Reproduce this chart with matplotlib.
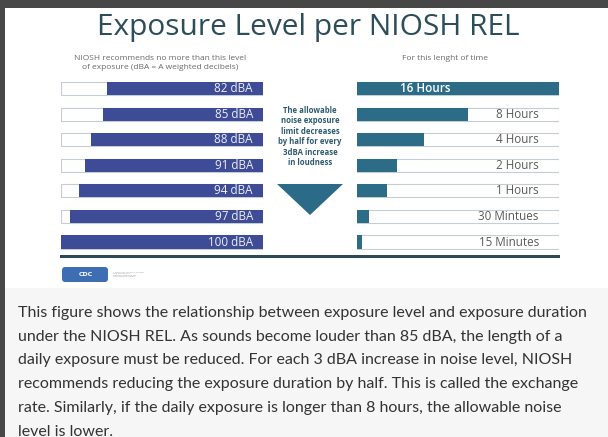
import matplotlib.pyplot as plt
from matplotlib.patches import Polygon, Rectangle, FancyBboxPatch

# data
levels = ['82 dBA', '85 dBA', '88 dBA', '91 dBA', '94 dBA', '97 dBA', '100 dBA']
level_fill = [0.77, 0.79, 0.85, 0.88, 0.91, 0.955, 1.0]
durations = ['16 Hours', '8 Hours', '4 Hours', '2 Hours', '1 Hours', '30 Mintues', '15 Minutes']
duration_fill = [1.0, 0.55, 0.33, 0.20, 0.15, 0.06, 0.025]

paragraph = [
    "This figure shows the relationship between exposure level and exposure duration",
    "under the NIOSH REL. As sounds become louder than 85 dBA, the length of a",
    "daily exposure must be reduced. For each 3 dBA increase in noise level, NIOSH",
    "recommends reducing the exposure duration by half. This is called the exchange",
    "rate. Similarly, if the daily exposure is longer than 8 hours, the allowable noise",
    "level is lower.",
]
middle_note = "The allowable\nnoise exposure\nlimit decreases\nby half for every\n3dBA increase\nin loudness"

W, H = 608, 437
fig = plt.figure(figsize=(W / 100, H / 100), dpi=100)
fig.patch.set_facecolor('white')

# background axes in pixel coordinates
bg = fig.add_axes([0, 0, 1, 1])
bg.set_xlim(0, W)
bg.set_ylim(H, 0)
bg.axis('off')
bg.add_patch(Rectangle((0, 0), W, 8, color='#474747', lw=0))
bg.add_patch(Rectangle((0, 0), 5, H, color='#474747', lw=0))
bg.add_patch(Rectangle((5, 288), W - 5, H - 288, color='#f6f6f6', lw=0))

bg.text(308, 28, 'Exposure Level per NIOSH REL', ha='center', va='center',
        fontsize=21.5, color='#2d4d5b', family='Open Sans')
bg.text(160, 63, 'NIOSH recommends no more than this level\nof exposure (dBA = A weighted decibels)',
        ha='center', va='center', fontsize=6.0, color='#6a6a6a', family='Open Sans', linespacing=1.3)
bg.text(445, 58, 'For this lenght of time', ha='center', va='center',
        fontsize=6.0, color='#6a6a6a', family='Open Sans')

bg.text(310, 136.5, middle_note, ha='center', va='center', fontsize=5.6, fontweight='bold',
        color='#2f5a6e', family='Open Sans', linespacing=1.22)
bg.add_patch(Polygon([(277, 184), (343, 184), (310, 215)], closed=True, color='#2c6b88', lw=0))

bg.add_patch(Rectangle((60, 255), 500, 3, color='#2c4a55', lw=0))

# logo
bg.add_patch(FancyBboxPatch((62, 267), 46, 15, boxstyle='round,pad=0,rounding_size=3',
                            color='#3d6eb4', lw=0))
bg.text(86, 274.5, 'CDC', ha='center', va='center', fontsize=4.5, color='white', fontweight='bold')
bg.text(113, 274.5, 'Centers for Disease Control\nand Prevention\nNational Institute for\nOccupational Safety',
        ha='left', va='center', fontsize=1.6, color='#9a9a9a', linespacing=1.2)

for i, line in enumerate(paragraph):
    bg.text(18, 313 + i * 23.7, line, ha='left', va='center', fontsize=11.5,
            color='#333333', family='Lato')

# bar axes
row_top, row_bot = 88.5, 242.0
step = (row_bot - row_top) / 6
y0 = row_top - step / 2
y1 = row_bot + step / 2
rows = list(range(len(levels)))


def bar_axes(xpix):
    ax = fig.add_axes([xpix / W, 1 - y1 / H, 202 / W, (y1 - y0) / H])
    ax.set_xlim(0, 1)
    ax.set_ylim(6.5, -0.5)
    ax.axis('off')
    return ax


axl = bar_axes(61)
axl.barh(rows, [1] * len(rows), height=0.51, color='white', edgecolor='#c5ccd3', lw=0.8)
axl.barh(rows, level_fill, left=[1 - f for f in level_fill], height=0.51, color='#3e4c98', lw=0)
for r, lab in zip(rows, levels):
    axl.text(0.95, r, lab, ha='right', va='center', fontsize=8.4, color='#eeeef6', family='Open Sans')

axr = bar_axes(357)
axr.barh(rows, [1] * len(rows), height=0.51, color='white', edgecolor='#c5ccd3', lw=0.8)
axr.barh(rows, duration_fill, height=0.51, color='#2d6c87', lw=0)
for r, lab, f in zip(rows, durations, duration_fill):
    if f >= 1:
        axr.text(0.34, r, lab, ha='center', va='center', fontsize=8.4, color='white',
                 family='Open Sans', fontweight='semibold')
    else:
        axr.text(0.9, r, lab, ha='right', va='center', fontsize=8.4, color='#5a5a5a', family='Open Sans')

fig.savefig('out.png', dpi=100)
